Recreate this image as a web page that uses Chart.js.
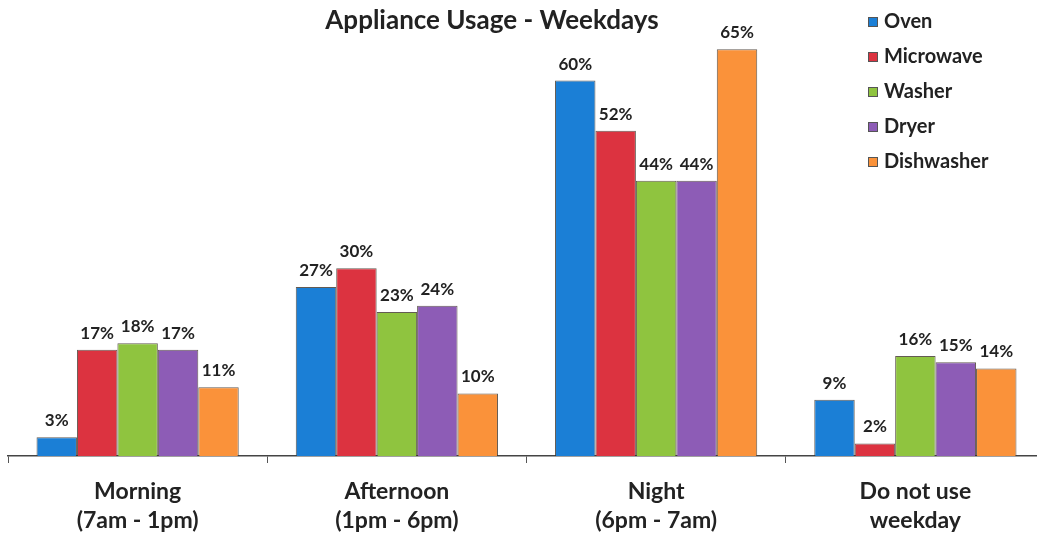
<!DOCTYPE html>
<html>
<head>
<meta charset="utf-8">
<script src="https://cdn.jsdelivr.net/npm/chart.js@4"></script>
<style>
  html, body { margin: 0; padding: 0; background: #fff; overflow: hidden; }
  #wrap { position: relative; width: 1045px; height: 534px; }
</style>
</head>
<body>
<div id="wrap"><canvas id="chart"></canvas></div>
<script>
// chart data
let categories = [
    ['Morning', '(7am - 1pm)'],
    ['Afternoon', '(1pm - 6pm)'],
    ['Night', '(6pm - 7am)'],
    ['Do not use', 'weekday']
];
let seriesNames = ['Oven', 'Microwave', 'Washer', 'Dryer', 'Dishwasher'];
let oven = [3, 27, 60, 9];
let microwave = [17, 30, 52, 2];
let washer = [18, 23, 44, 16];
let dryer = [17, 24, 44, 15];
let dishwasher = [11, 10, 65, 14];
let seriesColors = ['#1b7fd6', '#dc3340', '#8fc43f', '#8d5cb6', '#fa923a'];

let allValues = [oven, microwave, washer, dryer, dishwasher];
let FONT = 'Lato, "Open Sans", sans-serif';

// value labels above the bars
const barLabels = {
    id: 'barLabels',
    afterDatasetsDraw(chart) {
        let ctx = chart.ctx;
        ctx.save();
        ctx.font = 'bold 17px ' + FONT;
        ctx.fillStyle = '#222';
        ctx.textAlign = 'center';
        ctx.textBaseline = 'bottom';
        chart.data.datasets.forEach((ds, i) => {
            let meta = chart.getDatasetMeta(i);
            meta.data.forEach((bar, j) => {
                ctx.fillText(ds.data[j] + '%', bar.x, bar.y - 8);
            });
        });
        ctx.restore();
    }
};

// title + legend drawn by hand (they sit over the plot like in the original)
const titleAndLegend = {
    id: 'titleAndLegend',
    afterDraw(chart) {
        let ctx = chart.ctx;
        ctx.save();
        ctx.fillStyle = '#222';
        ctx.font = 'bold 26px ' + FONT;
        ctx.textAlign = 'center';
        ctx.textBaseline = 'middle';
        ctx.fillText('Appliance Usage - Weekdays', 492, 21);

        ctx.font = 'bold 20px ' + FONT;
        ctx.textAlign = 'left';
        chart.data.datasets.forEach((ds, i) => {
            let y = 22 + i * 35;
            ctx.fillStyle = ds.backgroundColor;
            ctx.fillRect(868, y - 5, 10, 10);
            ctx.strokeStyle = '#555';
            ctx.lineWidth = 1;
            ctx.strokeRect(868.5, y - 4.5, 9, 9);
            ctx.fillStyle = '#222';
            ctx.fillText(ds.label, 884, y);
        });
        ctx.restore();
    }
};

let datasets = seriesNames.map((name, i) => ({
    label: name,
    data: allValues[i],
    backgroundColor: seriesColors[i],
    borderColor: 'rgba(60,50,40,0.8)',
    borderWidth: 1,
    categoryPercentage: 0.78,
    barPercentage: 1
}));

let usageChart = new Chart(document.getElementById('chart').getContext('2d'), {
    type: 'bar',
    data: { labels: categories, datasets: datasets },
    options: {
        responsive: true,
        maintainAspectRatio: false,
        animation: false,
        layout: { padding: { top: 18, left: 8, right: 0, bottom: 0 } },
        plugins: {
            legend: { display: false },
            title: { display: false },
            tooltip: { enabled: false }
        },
        scales: {
            x: {
                grid: {
                    display: true,
                    offset: true,
                    drawOnChartArea: false,
                    drawTicks: true,
                    tickLength: 7,
                    color: '#555'
                },
                border: { display: true, color: '#444', width: 1.5 },
                ticks: {
                    color: '#222',
                    padding: 15,
                    font: { family: FONT, size: 23, weight: 'bold', lineHeight: 1.22 }
                },
                afterFit(scale) {
                    scale.height = 78;
                }
            },
            y: {
                display: false,
                min: 0,
                max: 70
            }
        }
    },
    plugins: [barLabels, titleAndLegend]
});
</script>
</body>
</html>
